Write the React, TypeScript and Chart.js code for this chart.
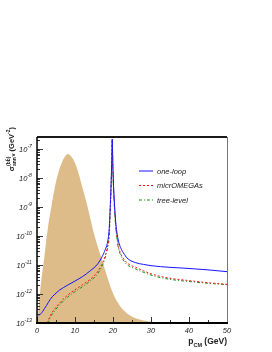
import { useEffect, useRef } from "react";
import { Chart, registerables } from "chart.js";

Chart.register(...registerables);

const FONT = '"Liberation Sans", Arial, sans-serif';

// x-axis ticks (GeV) and y-axis decades
const xTickValues = [0, 10, 20, 30, 40, 50];
const xMinorValues = [5, 15, 25, 35, 45];
const yDecadeExponents = [-13, -12, -11, -10, -9, -8, -7];

// one-loop (blue solid)
const pOneLoop = [0.5, 1, 1.5, 2, 2.5, 3, 4, 5, 6, 8, 10, 12, 14, 16, 17, 18, 18.5, 19.0, 19.3, 19.5, 19.65, 19.8, 19.95, 20.1, 20.35, 20.7, 21.0, 21.5, 22, 23, 24, 26, 28, 30, 35, 40, 45, 50];
const sigmaOneLoop = [1.8e-13, 2.1e-13, 2.5e-13, 3.2e-13, 4.0e-13, 5.2e-13, 8.0e-13, 1.07e-12, 1.38e-12, 2.0e-12, 2.8e-12, 4.0e-12, 6.3e-12, 1.1e-11, 1.8e-11, 3.5e-11, 5.6e-11, 1.8e-10, 1.25e-9, 6.3e-9, 3.2e-8, 2.2e-7, 3.2e-8, 7.9e-9, 1.6e-9, 3.2e-10, 1.4e-10, 6.3e-11, 4.0e-11, 2.3e-11, 1.6e-11, 1.2e-11, 1.05e-11, 9.5e-12, 8.3e-12, 7.6e-12, 6.8e-12, 5.9e-12];

// microOMEGAs (red dashed)
const pMicro = [2.6, 3, 3.5, 4, 5, 6, 8, 10, 12, 14, 15, 16, 17, 17.5, 18, 18.5, 18.8, 19.0, 19.3, 19.5, 19.65, 19.8, 19.95, 20.1, 20.35, 20.7, 21.0, 21.5, 22, 23, 24, 26, 28, 30, 32, 35, 40, 45, 50];
const sigmaMicro = [1.0e-13, 1.25e-13, 1.8e-13, 2.35e-13, 3.5e-13, 5.0e-13, 9.0e-13, 1.4e-12, 2.1e-12, 3.2e-12, 4.2e-12, 6.0e-12, 1.0e-11, 1.4e-11, 2.2e-11, 4.0e-11, 6.3e-11, 1.2e-10, 1.0e-9, 5.0e-9, 2.8e-8, 2.2e-7, 2.8e-8, 6.3e-9, 1.25e-9, 2.5e-10, 1.0e-10, 4.0e-11, 2.5e-11, 1.5e-11, 1.1e-11, 8.3e-12, 6.3e-12, 5.0e-12, 4.2e-12, 3.5e-12, 2.9e-12, 2.45e-12, 2.15e-12];

// tree-level (green dash-dot)
const pTree = [2.75, 3, 3.5, 4, 5, 6, 8, 10, 12, 14, 15, 16, 17, 17.5, 18, 18.5, 18.8, 19.0, 19.3, 19.5, 19.65, 19.8, 19.95, 20.1, 20.35, 20.7, 21.0, 21.5, 22, 23, 24, 26, 28, 30, 32, 35, 40, 45, 50];
const sigmaTree = [1.0e-13, 1.1e-13, 1.55e-13, 2.0e-13, 3.0e-13, 4.3e-13, 7.7e-13, 1.2e-12, 1.8e-12, 2.8e-12, 3.6e-12, 5.1e-12, 8.5e-12, 1.2e-11, 1.9e-11, 3.4e-11, 5.5e-11, 1.05e-10, 9e-10, 4.5e-9, 2.6e-8, 2.1e-7, 2.6e-8, 5.6e-9, 1.1e-9, 2.2e-10, 8.8e-11, 3.5e-11, 2.2e-11, 1.3e-11, 9.6e-12, 7.3e-12, 5.6e-12, 4.5e-12, 3.8e-12, 3.2e-12, 2.7e-12, 2.35e-12, 2.1e-12];

// momentum distribution (shaded, arbitrary linear units, relative height)
const pDist = [0, 0.2, 0.5, 0.8, 1.2, 1.9, 2.8, 3.9, 4.9, 5.8, 6.6, 7.3, 8.1, 9, 10, 11, 12, 13, 14, 15, 16, 17, 18, 19, 20, 21, 22, 23, 24, 26, 28, 31, 35, 50];
const distValues = [0, 0.03, 0.1, 0.167, 0.24, 0.35, 0.5, 0.64, 0.75, 0.82, 0.865, 0.893, 0.909, 0.895, 0.86, 0.8, 0.725, 0.65, 0.565, 0.48, 0.41, 0.345, 0.28, 0.215, 0.16, 0.118, 0.088, 0.065, 0.047, 0.025, 0.013, 0.005, 0.001, 0];

const legendItems = [
  { label: "one-loop", color: "rgb(20,20,255)", dash: [] as number[] },
  { label: "micrOMEGAs", color: "rgb(255,20,20)", dash: [2, 2] },
  { label: "tree-level", color: "rgb(20,150,20)", dash: [3, 2, 1, 2] },
];

const toXY = (xs: number[], ys: number[]) => xs.map((x, i) => ({ x, y: ys[i] }));

type Part = { t: string; size: number; dy: number; bold?: boolean; italic?: boolean; stackWithNext?: boolean };

function fontOf(p: Part) {
  return `${p.italic ? "italic " : ""}${p.bold ? "bold " : ""}${p.size}px ${FONT}`;
}

function partsWidth(ctx: CanvasRenderingContext2D, parts: Part[]) {
  let w = 0;
  for (let i = 0; i < parts.length; i++) {
    const p = parts[i];
    ctx.font = fontOf(p);
    const wi = ctx.measureText(p.t).width;
    if (p.stackWithNext) {
      const q = parts[i + 1];
      ctx.font = fontOf(q);
      const wq = ctx.measureText(q.t).width;
      w += Math.max(wi, wq);
      i++;
    } else {
      w += wi;
    }
  }
  return w;
}

function drawParts(ctx: CanvasRenderingContext2D, parts: Part[], x0: number, y0: number) {
  let x = x0;
  for (let i = 0; i < parts.length; i++) {
    const p = parts[i];
    ctx.font = fontOf(p);
    ctx.fillText(p.t, x, y0 + p.dy);
    let wi = ctx.measureText(p.t).width;
    if (p.stackWithNext) {
      const q = parts[i + 1];
      ctx.font = fontOf(q);
      ctx.fillText(q.t, x, y0 + q.dy);
      wi = Math.max(wi, ctx.measureText(q.t).width);
      i++;
    }
    x += wi;
  }
}

const rootStylePlugin = {
  id: "rootStyle",
  afterDatasetsDraw(chart: any) {
    const { ctx, chartArea: a, scales } = chart;
    const xs = scales.x;
    const ys = scales.y;
    ctx.save();
    ctx.textBaseline = "alphabetic";

    // ticks
    ctx.strokeStyle = "#333";
    ctx.lineWidth = 1;
    ctx.beginPath();
    for (const e of yDecadeExponents) {
      for (let k = 1; k <= 9; k++) {
        const v = k * Math.pow(10, e);
        if (v > ys.max) break;
        const py = Math.round(ys.getPixelForValue(v)) + 0.5;
        const len = k === 1 ? 6 : 3;
        ctx.moveTo(a.left, py);
        ctx.lineTo(a.left + len, py);
      }
    }
    for (const v of xTickValues) {
      const px = Math.round(xs.getPixelForValue(v)) + 0.5;
      ctx.moveTo(px, a.bottom);
      ctx.lineTo(px, a.bottom - 6);
    }
    for (const v of xMinorValues) {
      const px = Math.round(xs.getPixelForValue(v)) + 0.5;
      ctx.moveTo(px, a.bottom);
      ctx.lineTo(px, a.bottom - 3);
    }
    ctx.stroke();

    // frame
    ctx.strokeStyle = "#1a1a1a";
    ctx.lineWidth = 2;
    ctx.beginPath();
    ctx.moveTo(a.left, a.top);
    ctx.lineTo(a.right, a.top);
    ctx.stroke();
    ctx.strokeStyle = "#777";
    ctx.lineWidth = 1;
    ctx.beginPath();
    ctx.moveTo(a.right + 0.5, a.top);
    ctx.lineTo(a.right + 0.5, a.bottom);
    ctx.stroke();
    ctx.strokeStyle = "#000";
    ctx.lineWidth = 1.5;
    ctx.beginPath();
    ctx.moveTo(a.left, a.top);
    ctx.lineTo(a.left, a.bottom);
    ctx.stroke();
    ctx.lineWidth = 2;
    ctx.beginPath();
    ctx.moveTo(a.left - 1, a.bottom);
    ctx.lineTo(a.right + 1, a.bottom);
    ctx.stroke();

    // y tick labels
    ctx.fillStyle = "#222";
    for (const e of yDecadeExponents) {
      const py = ys.getPixelForValue(Math.pow(10, e));
      const parts: Part[] = [
        { t: "10", size: 7.5, dy: 0, italic: true },
        { t: String(e), size: 5.2, dy: -4, italic: true },
      ];
      const w = partsWidth(ctx, parts);
      drawParts(ctx, parts, 32 - w, py + 3);
    }
    // x tick labels
    ctx.textAlign = "center";
    ctx.font = `italic 7.5px ${FONT}`;
    for (const v of xTickValues) {
      ctx.fillText(String(v), xs.getPixelForValue(v), a.bottom + 10);
    }
    ctx.textAlign = "left";

    // x title
    const xt: Part[] = [
      { t: "p", size: 8.5, dy: 0, bold: true },
      { t: "CM", size: 5.5, dy: 3, bold: true },
      { t: " (GeV)", size: 8.5, dy: 0, bold: true },
    ];
    const xw = partsWidth(ctx, xt);
    drawParts(ctx, xt, a.right - xw, 344);

    // y title (rotated)
    const yt: Part[] = [
      { t: "\u03c3", size: 7.5, dy: 0, bold: true },
      { t: "(bb\u0304)", size: 5, dy: -4, bold: true, stackWithNext: true },
      { t: "ann", size: 5, dy: 2, bold: true },
      { t: "v", size: 5.5, dy: 1.5, bold: true },
      { t: " (GeV", size: 7.5, dy: 0, bold: true },
      { t: "-2", size: 5, dy: -3.5, bold: true },
      { t: ")", size: 7.5, dy: 0, bold: true },
    ];
    const yw = partsWidth(ctx, yt);
    ctx.save();
    ctx.translate(13.5, 127 + yw);
    ctx.rotate(-Math.PI / 2);
    drawParts(ctx, yt, 0, 0);
    ctx.restore();

    // legend
    const lx0 = 139;
    const lx1 = 153;
    const rows = [171, 185.5, 200];
    legendItems.forEach((it, i) => {
      const y = rows[i];
      ctx.strokeStyle = it.color;
      ctx.lineWidth = 1;
      ctx.setLineDash(it.dash);
      ctx.beginPath();
      ctx.moveTo(lx0, y);
      ctx.lineTo(lx1, y);
      ctx.stroke();
      ctx.setLineDash([]);
      ctx.fillStyle = "#222";
      ctx.font = `italic 7.5px ${FONT}`;
      ctx.fillText(it.label, 157, y + 2.7);
    });

    ctx.restore();
  },
};

export default function App() {
  const ref = useRef<HTMLCanvasElement | null>(null);
  useEffect(() => {
    document.body.style.margin = "0";
    const canvas = ref.current;
    if (!canvas) return;
    const chart = new Chart(canvas, {
      type: "line",
      data: {
        datasets: [
          {
            label: "one-loop",
            data: toXY(pOneLoop, sigmaOneLoop),
            borderColor: legendItems[0].color,
            borderWidth: 1,
            pointRadius: 0,
            cubicInterpolationMode: "monotone",
            yAxisID: "y",
            order: 1,
          },
          {
            label: "micrOMEGAs",
            data: toXY(pMicro, sigmaMicro),
            borderColor: legendItems[1].color,
            borderWidth: 1,
            borderDash: [2, 2],
            pointRadius: 0,
            cubicInterpolationMode: "monotone",
            yAxisID: "y",
            order: 2,
          },
          {
            label: "tree-level",
            data: toXY(pTree, sigmaTree),
            borderColor: legendItems[2].color,
            borderWidth: 1,
            borderDash: [3, 2, 1, 2],
            pointRadius: 0,
            cubicInterpolationMode: "monotone",
            yAxisID: "y",
            order: 3,
          },
          {
            label: "distribution",
            data: toXY(pDist, distValues),
            borderWidth: 0,
            borderColor: "rgba(0,0,0,0)",
            backgroundColor: "rgb(222,188,138)",
            fill: "origin",
            pointRadius: 0,
            tension: 0.4,
            yAxisID: "y2",
            order: 10,
          },
        ],
      },
      options: {
        animation: false,
        responsive: false,
        maintainAspectRatio: false,
        layout: { padding: { left: 37, right: 45, top: 137, bottom: 29 } },
        plugins: { legend: { display: false }, tooltip: { enabled: false } },
        scales: {
          x: { type: "linear", min: 0, max: 50, display: false },
          y: { type: "logarithmic", min: 1e-13, max: 2.6e-7, display: false },
          y2: { type: "linear", min: 0, max: 1, display: false },
        },
      },
      plugins: [rootStylePlugin],
    } as any);
    return () => chart.destroy();
  }, []);
  return <canvas ref={ref} width={272} height={352} style={{ display: "block", width: 272, height: 352 }} />;
}
